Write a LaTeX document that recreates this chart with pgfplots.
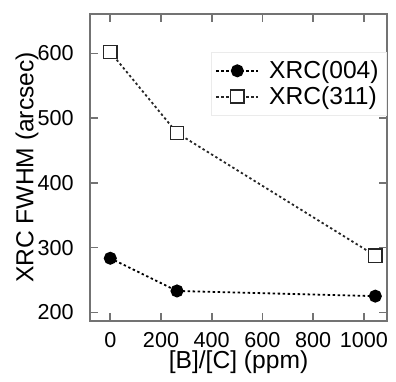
\documentclass[border=0pt]{standalone}
\usepackage{fontspec}
\setmainfont{Liberation Sans}
\usepackage{pgfplots}
\pgfplotsset{compat=1.18}
\begin{document}
\begin{tikzpicture}
\begin{axis}[
  scale only axis,
  width=148.5pt, height=153.5pt,
  xmin=-80, xmax=1091, ymin=186.6, ymax=660.7,
  xtick={0,200,400,600,800,1000},
  ytick={200,300,400,500,600},
  tick align=inside,
  major tick length=4pt,
  axis line style={line width=0.8pt, draw=black!55},
  every tick/.style={line width=0.8pt, draw=black!55},
  ticklabel style={font=\fontsize{10.8}{13}\selectfont},
  xticklabel style={anchor=center, yshift=-9.5pt},
  yticklabel style={anchor=east, inner sep=0pt, xshift=-8pt},
  /pgf/number format/assume math mode=true,
  /pgf/number format/set thousands separator={},
  xlabel={[B]/[C] (ppm)},
  ylabel={XRC FWHM (arcsec)},
  label style={font=\fontsize{12.3}{14}\selectfont},
  xlabel style={at={(axis description cs:0.5,0)}, anchor=center, yshift=-20.5pt},
  ylabel style={at={(axis description cs:0,0.5)}, anchor=center, yshift=31.5pt},
  legend style={at={(axis description cs:1,1)}, anchor=north east,
    xshift=0pt, yshift=-19pt, draw=black!8,
    font=\fontsize{12.3}{14}\selectfont, row sep=-1.5pt, column sep=3pt, inner sep=2pt},
  legend cell align=left,
  legend image code/.code={\draw[mark repeat=2,mark phase=2,#1] plot coordinates {(0pt,0pt) (10.5pt,0pt) (21pt,0pt)};},
]
\addplot[black, line width=0.9pt, dash pattern=on 1.2pt off 1.3pt,
  mark=*, mark size=2.8pt, mark options={fill=black, solid}]
  coordinates {(0,283.5) (263,233) (1045,225)};
\addlegendentry{XRC(004)}
\addplot[black!85, line width=0.9pt, dash pattern=on 1.2pt off 1.3pt,
  mark=square*, mark size=3.3pt, mark options={fill=white, draw=black!85, line width=0.75pt, solid}]
  coordinates {(0,602) (263,477) (1045,287.5)};
\addlegendentry{XRC(311)}
\end{axis}
\pgfresetboundingbox
\path (current axis.south west) ++(-45pt,-30pt) coordinate (bbA);
\path (current axis.north east) ++(4.5pt,7pt) coordinate (bbB);
\path[use as bounding box] (bbA) rectangle (bbB);
\end{tikzpicture}
\end{document}
